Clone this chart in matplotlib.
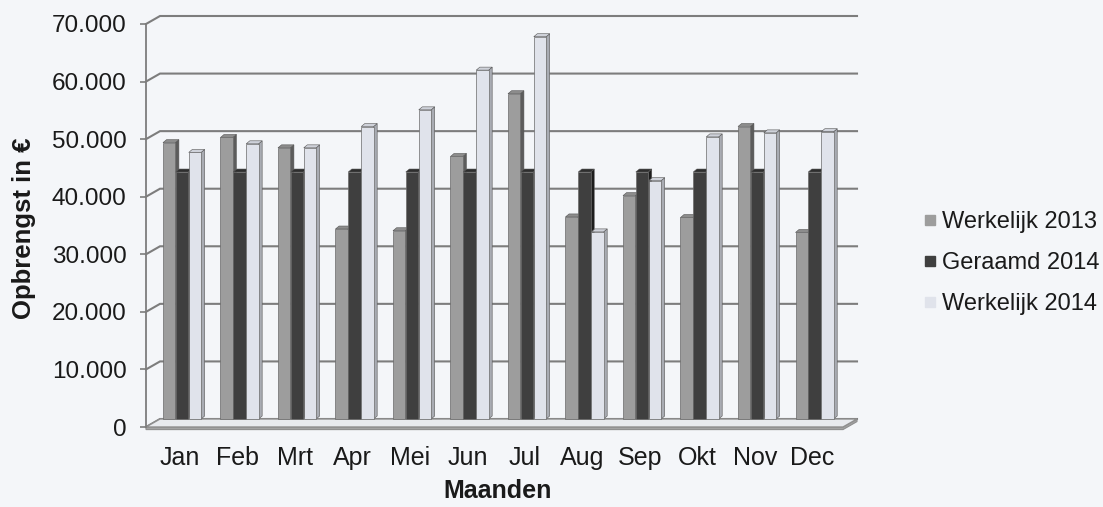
import matplotlib
matplotlib.use('Agg')
import matplotlib.pyplot as plt
from matplotlib.patches import Polygon, Rectangle
from matplotlib.lines import Line2D

plt.rcParams['font.family'] = ['Liberation Sans', 'DejaVu Sans']

# data
months = ['Jan', 'Feb', 'Mrt', 'Apr', 'Mei', 'Jun', 'Jul', 'Aug', 'Sep', 'Okt', 'Nov', 'Dec']
werkelijk_2013 = [48000, 48900, 47100, 33000, 32700, 45600, 56500, 35100, 38800, 35000, 50800, 32400]
geraamd_2014 = [42900, 42900, 42900, 42900, 42900, 42900, 42900, 42900, 42900, 42900, 42900, 42900]
werkelijk_2014 = [46300, 47800, 47100, 50800, 53700, 60600, 66400, 32500, 41400, 49000, 49700, 49900]
series_names = ['Werkelijk 2013', 'Geraamd 2014', 'Werkelijk 2014']
y_ticks = [0, 10000, 20000, 30000, 40000, 50000, 60000, 70000]
y_tick_labels = ['0', '10.000', '20.000', '30.000', '40.000', '50.000', '60.000', '70.000']

# look
BG = '#f4f6f9'
front_cols = ['#9d9d9d', '#3f3f3f', '#e0e3eb']
side_cols = ['#5c5c5c', '#1c1c1c', '#a9acb3']
top_cols = ['#8c8c8c', '#2e2e2e', '#cfd2da']
GRID = '#7d7d7d'
TXT = '#1a1a1a'

XMIN, XMAX = -0.591, 11.53
DX, DY = 0.2435, 1390          # depth offset of back wall (data units)
SX, SY = 0.062, 520            # bar side / top depth
W = 0.215
offsets = [-0.296, -0.073, 0.152]

fig = plt.figure(figsize=(11.03, 5.07), dpi=100, facecolor=BG)
ax = fig.add_axes([146 / 1103, 80 / 507, 697 / 1103, 403 / 507], facecolor=BG)
ax.set_xlim(XMIN, XMAX)
ax.set_ylim(0, 70000)

# back wall gridlines with left-wall diagonals
for v in y_ticks:
    ax.plot([XMIN, XMIN + DX, XMAX + DX], [v, v + DY, v + DY], color=GRID, lw=1.5,
            clip_on=False, zorder=1, solid_joinstyle='miter')

# floor
T = 450
floor = Polygon([(XMIN, 0), (XMAX, 0), (XMAX + DX, DY), (XMIN + DX, DY)],
                closed=True, fc='#e8eaee', ec='#8f8f8f', lw=1.0, clip_on=False, zorder=1.5)
slab = Polygon([(XMIN, 0), (XMAX, 0), (XMAX + DX, DY), (XMAX + DX, DY - T), (XMAX, -T), (XMIN, -T)],
               closed=True, fc='#a3a3a3', ec='#8f8f8f', lw=0.8, clip_on=False, zorder=1.4)
ax.add_patch(slab)
ax.add_patch(floor)

series = [werkelijk_2013, geraamd_2014, werkelijk_2014]
z = 2
for i in range(len(months)):
    for j, vals in enumerate(series):
        v = vals[i]
        x0 = i + offsets[j]
        b = DY
        side = Polygon([(x0 + W, b), (x0 + W + SX, b + SY), (x0 + W + SX, b + v + SY), (x0 + W, b + v)],
                       closed=True, fc=side_cols[j], ec='#555555', lw=0.4, zorder=z)
        top = Polygon([(x0, b + v), (x0 + SX, b + v + SY), (x0 + W + SX, b + v + SY), (x0 + W, b + v)],
                      closed=True, fc=top_cols[j], ec='#555555', lw=0.4, zorder=z)
        front = Rectangle((x0, b), W, v, fc=front_cols[j], ec='#6a6a6a', lw=0.5, zorder=z + 0.1)
        ax.add_patch(side)
        ax.add_patch(top)
        ax.add_patch(front)
        z += 0.3

# axes
for s in ['top', 'right', 'bottom']:
    ax.spines[s].set_visible(False)
ax.spines['left'].set_color(GRID)
ax.spines['left'].set_linewidth(1.3)
ax.set_yticks(y_ticks)
ax.set_yticklabels(y_tick_labels)
ax.tick_params(axis='y', length=4, width=1.2, color=GRID, pad=10, labelsize=17.5, labelcolor=TXT)
ax.set_xticks(range(len(months)))
ax.set_xticklabels(months)
ax.tick_params(axis='x', length=0, pad=14, labelsize=18, labelcolor=TXT)

fig.text(24 / 1103, 1 - 228 / 507, 'Opbrengst in €', rotation=90, ha='center', va='center',
         fontsize=18.5, fontweight='bold', color=TXT)
fig.text(498 / 1103, 1 - 491 / 507, 'Maanden', ha='center', va='center',
         fontsize=18, fontweight='bold', color=TXT)

handles = [Line2D([], [], ls='none', marker='s', markersize=7, mfc=front_cols[k], mec=front_cols[k])
           for k in range(3)]
fig.legend(handles, series_names, loc='center left', bbox_to_anchor=(912 / 1103, 1 - 263 / 507),
           frameon=False, fontsize=17, handlelength=0.55, handletextpad=0.2, labelspacing=0.8,
           borderpad=0, labelcolor=TXT)

fig.savefig('out.png', dpi=100, facecolor=BG)
